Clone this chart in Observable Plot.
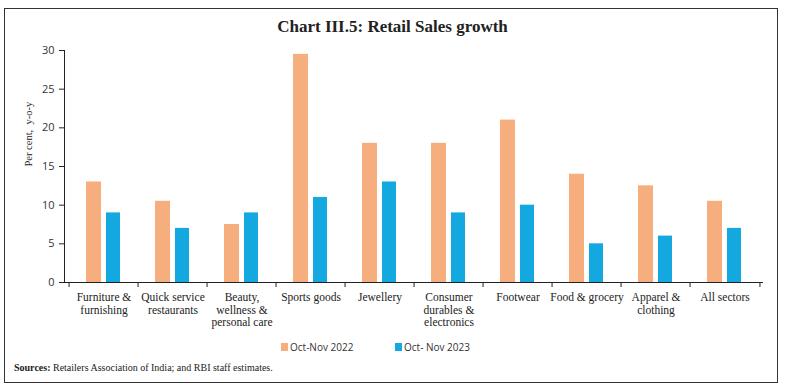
<!DOCTYPE html>
<html><head><meta charset="utf-8">
<script src="https://cdn.jsdelivr.net/npm/d3@7"></script>
<script src="https://cdn.jsdelivr.net/npm/@observablehq/plot@0.6"></script>
<style>
body{margin:0;background:#fff;width:785px;height:390px;position:relative;overflow:hidden;}
#frame{position:absolute;left:4px;top:8px;width:774px;height:375px;border:1.2px solid #333;box-sizing:border-box;}
#title{position:absolute;left:0;top:17px;width:785px;text-align:center;font-family:"Liberation Serif",serif;font-weight:bold;font-size:17px;color:#222;}
#chart{position:absolute;left:0;top:40px;}
#legend{position:absolute;top:340px;left:0;width:785px;font-family:"Open Sans","Liberation Sans",sans-serif;font-size:10px;color:#333;}
.lg{position:absolute;top:0;display:flex;align-items:center;}
.sw{width:7px;height:8px;margin-right:2px;display:inline-block;}
#src{position:absolute;left:14px;top:362px;font-family:"Liberation Serif",serif;font-size:10px;color:#222;}
</style></head>
<body>
<div id="frame"></div>
<div id="title">Chart III.5: Retail Sales growth</div>
<div id="chart"></div>
<div id="legend"></div>
<div id="src"><b>Sources:</b> Retailers Association of India; and RBI staff estimates.</div>
<script>
const categories = ["Furniture & furnishing","Quick service restaurants","Beauty, wellness & personal care","Sports goods","Jewellery","Consumer durables & electronics","Footwear","Food & grocery","Apparel & clothing","All sectors"];
const categoryLabels = ["Furniture &\nfurnishing","Quick service\nrestaurants","Beauty,\nwellness &\npersonal care","Sports goods","Jewellery","Consumer\ndurables &\nelectronics","Footwear","Food & grocery","Apparel &\nclothing","All sectors"];
const seriesNames = ["Oct-Nov 2022","Oct- Nov 2023"];
const values2022 = [13,10.5,7.5,29.5,18,18,21,14,12.5,10.5];
const values2023 = [9,7,9,11,13,9,10,5,6,7];
const colors = ["#F7AE7E","#13A9E0"];
const yTicks = [0,5,10,15,20,25,30];

const d22 = categories.map((c,i)=>({cat:c, v:values2022[i]}));
const d23 = categories.map((c,i)=>({cat:c, v:values2023[i]}));
const labelOf = new Map(categories.map((c,i)=>[c,categoryLabels[i]]));

const W = 785, mL = 64, mR = 22;
const bw = (W - mL - mR) / categories.length;

const plot = Plot.plot({
  width: W, height: 290,
  marginLeft: mL, marginRight: mR, marginTop: 10, marginBottom: 48,
  style: {fontFamily: "'Open Sans','Liberation Sans',sans-serif", fontSize: "10px", color:"#333", background:"transparent"},
  x: {domain: categories, padding: 0, label: null},
  y: {domain: [0,30], ticks: yTicks, label: null},
  marks: [
    Plot.barY(d22, {x:"cat", y:"v", fill: colors[0], insetLeft: 17, insetRight: 37}),
    Plot.barY(d23, {x:"cat", y:"v", fill: colors[1], insetLeft: 37, insetRight: 18}),
    Plot.frame({anchor: "left", stroke: "#222", strokeWidth: 1}),
    Plot.ruleY([0], {stroke:"#222", strokeWidth:1}),
    Plot.ruleX(categories, {x: d=>d, y1: 0, y2: 0, insetBottom: -5, dx: -bw/2, stroke:"#222"}),
    Plot.ruleX([categories[categories.length-1]], {x: d=>d, y1: 0, y2: 0, insetBottom: -5, dx: bw/2, stroke:"#222"}),
    Plot.axisY({ticks: yTicks, tickSize: 5, tickPadding: 5, stroke:"#222", label: null, fontFamily:"'Open Sans',sans-serif", fontSize: 11}),
    Plot.axisX({tickSize: 0, tickPadding: 9, tickFormat: d=>labelOf.get(d), lineHeight: 1.12, fontFamily:"'Liberation Serif',serif", fontSize: 11.5, fill:"#222", label: null}),
    Plot.text(["Per cent,  y-o-y"], {frameAnchor:"left", dx: -36, rotate: -90, fontFamily:"'Liberation Serif',serif", fontSize: 10.5, fill:"#222"})
  ]
});
document.getElementById("chart").appendChild(plot);

const lg = document.getElementById("legend");
const lx = [281, 395];
seriesNames.forEach((s,i)=>{
  const el = document.createElement("div");
  el.className = "lg";
  el.style.left = lx[i] + "px";
  el.innerHTML = `<span class="sw" style="background:${colors[i]}"></span><span>${s}</span>`;
  lg.appendChild(el);
});
</script>
</body></html>
